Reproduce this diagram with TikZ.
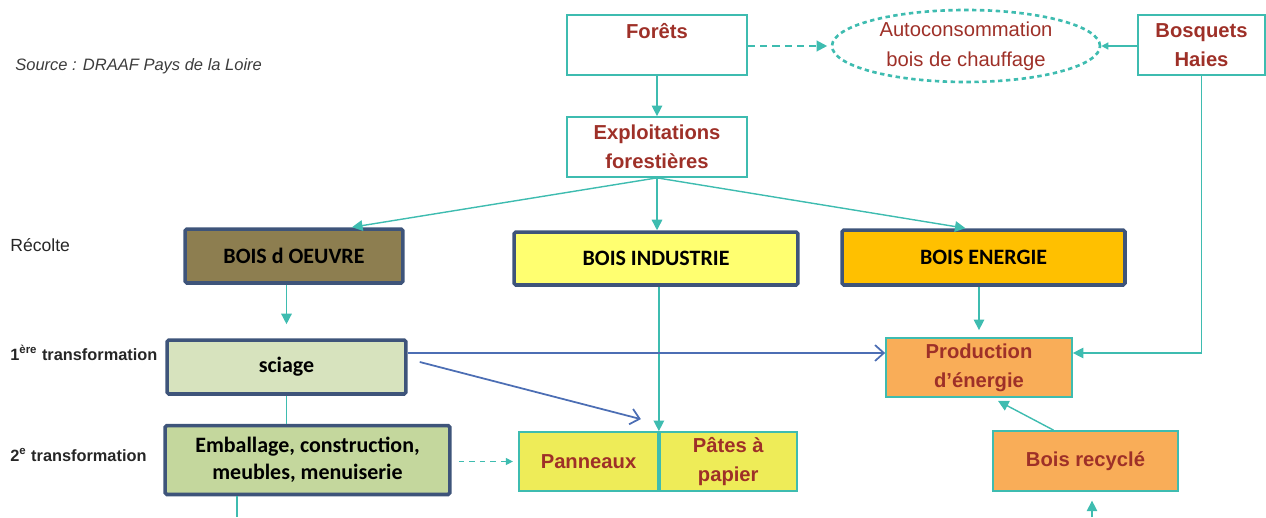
\documentclass[tikz,border=0pt]{standalone}
\usepackage{fontspec}
\setmainfont{Liberation Sans}
\newfontfamily\carlito{Carlito}
\usetikzlibrary{arrows.meta,calc,shapes.geometric}
\definecolor{turquoise}{RGB}{62,188,176}
\definecolor{rougebois}{RGB}{158,48,40}
\definecolor{bleufonce}{RGB}{62,84,122}
\definecolor{bleutrait}{RGB}{76,110,180}
\definecolor{olive}{RGB}{141,126,80}
\definecolor{jaune}{RGB}{255,255,112}
\definecolor{ambre}{RGB}{255,192,0}
\definecolor{vertclair}{RGB}{215,227,190}
\definecolor{vertmoyen}{RGB}{196,215,157}
\definecolor{jaunepanneau}{RGB}{238,236,88}
\definecolor{orange1}{RGB}{249,173,88}
\definecolor{gristexte}{RGB}{60,60,60}
\begin{document}
\begin{tikzpicture}[x=0.02cm, y=-0.02cm,
  redtxt/.style={text=rougebois, font=\fontsize{11.5}{16.5}\selectfont\bfseries, align=center},
  tealbox/.style={draw=turquoise, line width=1pt, redtxt, inner sep=0pt},
  darkbox/.style={draw=bleufonce, line width=2pt, rounded corners=1pt, inner sep=0pt,
    font=\carlito\fontsize{12.5}{15.5}\selectfont\bfseries, align=center},
  fleche/.style={draw=turquoise, line width=0.8pt, -{Triangle[length=6pt,width=6pt]}},
  trait/.style={draw=turquoise, line width=0.8pt},
  bleu/.style={draw=bleutrait, line width=1pt, -{Straight Barb[length=5pt,width=9pt]}},
  etape/.style={anchor=west, inner sep=0pt, text=black!85, font=\fontsize{10}{12}\selectfont}]
  \useasboundingbox (0,0) rectangle (1266,517);

  % source et etapes
  \node[anchor=west, inner sep=0pt, text=gristexte, font=\fontsize{9.4}{11}\selectfont\itshape] (source) at (15,66) {Source : DRAAF Pays de la Loire};
  \node[etape] (recolte) at (10,245) {Récolte};
  \node[etape, font=\fontsize{9.3}{11}\selectfont\bfseries] (trans1) at (10,353) {1\textsuperscript{ère} transformation};
  \node[etape, font=\fontsize{9.3}{11}\selectfont\bfseries] (trans2) at (10,455) {2\textsuperscript{e} transformation};

  % ressources
  \node[tealbox, minimum width=3.6cm, minimum height=1.2cm] (foret) at (657,45) {Forêts\\\mbox{}};
  \node[ellipse, draw=turquoise, line width=1.5pt, dash pattern=on 2.5pt off 2pt,
    minimum width=5.36cm, minimum height=1.44cm, inner sep=0pt, align=center,
    text=rougebois, font=\fontsize{11.5}{17}\selectfont] (auto) at (966,46) {Autoconsommation\\bois de chauffage};
  \node[tealbox, minimum width=2.54cm, minimum height=1.2cm] (bosq) at (1201.5,45) {Bosquets\\Haies};
  \node[tealbox, minimum width=3.6cm, minimum height=1.2cm] (exploit) at (657,147) {Exploitations\\forestières};

  % recolte
  \node[darkbox, fill=olive, minimum width=4.36cm, minimum height=1.08cm] (oeuvre) at (294,256) {BOIS d OEUVRE};
  \node[darkbox, fill=jaune, minimum width=5.68cm, minimum height=1.06cm] (industrie) at (656,258.5) {BOIS INDUSTRIE};
  \node[darkbox, fill=ambre, minimum width=5.66cm, minimum height=1.1cm] (energie) at (983.5,257.5) {BOIS ENERGIE};

  % transformations
  \node[darkbox, fill=vertclair, minimum width=4.78cm, minimum height=1.08cm] (sciage) at (286.5,367) {sciage};
  \node[darkbox, fill=vertmoyen, minimum width=5.7cm, minimum height=1.38cm] (emball) at (307.5,460) {Emballage, construction,\\meubles, menuiserie};
  \node[tealbox, fill=jaunepanneau, minimum width=2.78cm, minimum height=1.18cm] (pann) at (588.5,461.5) {Panneaux};
  \node[tealbox, fill=jaunepanneau, minimum width=2.74cm, minimum height=1.18cm, anchor=west] (pates) at (pann.east) {Pâtes à\\papier};
  \node[tealbox, fill=orange1, minimum width=3.72cm, minimum height=1.18cm] (prod) at (979,367.5) {Production\\d’énergie};
  \node[tealbox, fill=orange1, minimum width=3.7cm, minimum height=1.2cm] (recycl) at (1085.5,461) {Bois recyclé};

  \coordinate (niv) at (0,353);
  \coordinate (bas1) at (237,517);
  \coordinate (bas2) at (1092,517);

  % liaisons
  \draw[fleche] (foret) -- (exploit);
  \draw[fleche, line width=1.2pt, dash pattern=on 4pt off 3pt, shorten >=2pt] (foret.east |- auto.west) -- (auto.west);
  \draw[fleche, -{Triangle[length=4pt,width=4pt]}] (bosq.west |- auto.east) -- (auto.east);
  \draw[fleche] (exploit.south) -- ($(oeuvre.north)+(58,0)$);
  \draw[fleche] (exploit.south) -- (exploit.south |- industrie.north);
  \draw[fleche] (exploit.south) -- ($(energie.north)+(-18,0)$);
  \draw[fleche, shorten >=8pt] (oeuvre.south -| sciage.north) -- (sciage.north);
  \draw[trait] (sciage.south) -- (sciage.south |- emball.north);
  \draw[trait] (emball.south -| bas1) -- (bas1);
  \draw[fleche, line width=0.6pt, dashed, -{Triangle[length=4pt,width=4pt]}, shorten <=4pt, shorten >=3pt] (emball.east |- pann.west) -- (pann.west);
  \draw[fleche] (pann.north east |- industrie.south) -- (pann.north east);
  \draw[bleu] (sciage.east |- niv) -- (prod.west |- niv);
  \draw[bleu] ($(sciage.east)+(12,-5)$) -- ($(pann.north east)+(-18,-12)$);
  \draw[fleche, shorten >=4pt] (prod.north |- energie.south) -- (prod.north);
  \draw[fleche] (bosq.south) -- (bosq.south |- niv) -- (prod.east |- niv);
  \draw[fleche] ($(recycl.north)+(-32,0)$) -- ($(prod.south)+(19,3)$);
  \draw[fleche, shorten >=5pt] (bas2) -- (bas2 |- recycl.south);
\end{tikzpicture}
\end{document}
